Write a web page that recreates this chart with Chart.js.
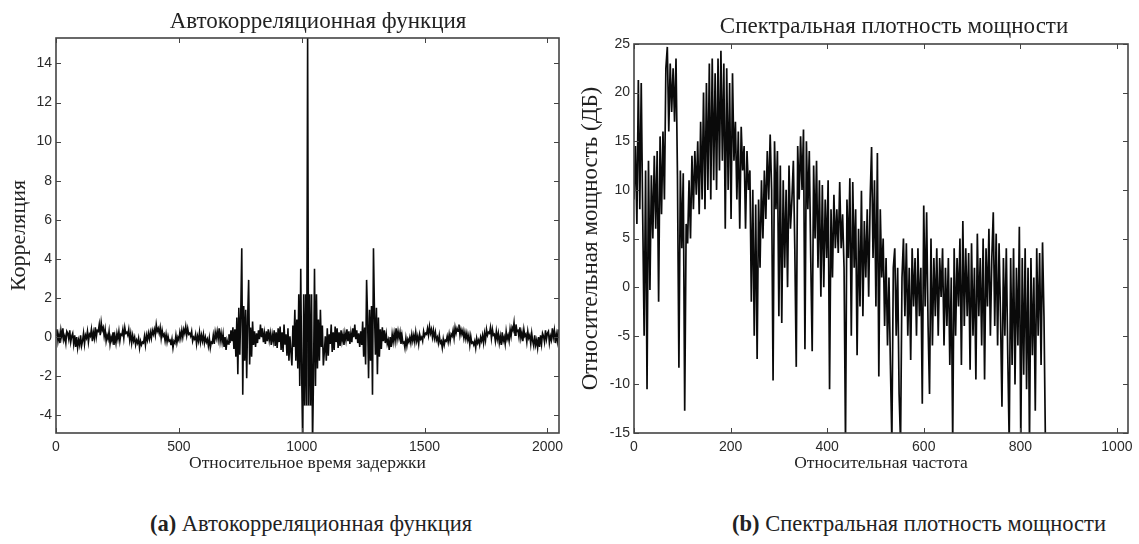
<!DOCTYPE html>
<html>
<head>
<meta charset="utf-8">
<script src="https://cdn.jsdelivr.net/npm/chart.js@4.4.1/dist/chart.umd.min.js"></script>
<style>
  body { margin: 0; background: #fff; }
  .page { position: relative; width: 1139px; height: 544px; overflow: hidden; font-family: 'Liberation Serif', 'DejaVu Serif', serif; color: #222; }
  .panel { position: absolute; top: 0; }
  .label { position: absolute; white-space: nowrap; line-height: 1; transform: translate(-50%, -50%); }
  .title { font-size: 23px; }
  .caption { font-size: 22.5px; }
</style>
</head>
<body>
<div class="page">
  <canvas id="acfChart" class="panel" style="left:0" width="575" height="480"></canvas>
  <canvas id="psdChart" class="panel" style="left:575px" width="564" height="480"></canvas>
  <div class="label title" style="left:318px; top:20px">Автокорреляционная функция</div>
  <div class="label title" style="left:894px; top:25px">Спектральная плотность мощности</div>
  <div class="label caption" style="left:311px; top:524px"><b>(a)</b> Автокорреляционная функция</div>
  <div class="label caption" style="left:919px; top:524px"><b>(b)</b> Спектральная плотность мощности</div>
</div>
<script>
// autocorrelation, one value every 4 lags (lag 0 .. 2044)
const acfStep = 4;
const acfCorr = [
  0.1, 0.4, -0.2, 0.15, -0.3, 0.35, 0.0, 0.45, -0.15, 0.05, -0.3, 0.3, 0.2, -0.1, 0.35, -0.25,
  0.05, 0.2, -0.35, 0.1, -0.5, 0.0, -0.55, -0.15, -0.4, 0.1, -0.45, -0.2, 0.2, -0.35, 0.1, -0.05,
  0.3, -0.25, 0.15, 0.05, 0.4, -0.2, 0.25, -0.05, 0.5, 0.0, 0.35, 0.3, 0.65, 0.1, 0.75, 0.35,
  0.5, 0.05, 0.4, -0.2, 0.1, -0.1, 0.3, -0.35, 0.0, -0.2, 0.25, -0.4, 0.05, -0.3, 0.2, -0.1,
  0.3, -0.2, 0.15, 0.1, 0.4, -0.05, 0.5, 0.2, 0.25, 0.1, 0.4, -0.15, 0.2, -0.3, 0.1, -0.2,
  0.0, -0.4, -0.15, -0.3, -0.05, -0.55, -0.2, -0.4, -0.25, -0.3, 0.05, -0.4, 0.1, -0.15, 0.2, -0.1,
  0.25, -0.05, 0.35, 0.15, 0.4, 0.1, 0.65, 0.3, 0.45, 0.2, 0.5, -0.05, 0.35, 0.05, 0.15, -0.2,
  0.15, -0.25, 0.05, -0.2, -0.15, -0.4, -0.1, -0.55, -0.2, -0.3, 0.1, -0.3, 0.0, -0.15, 0.25, -0.05,
  0.35, 0.0, 0.4, 0.2, 0.55, 0.1, 0.45, 0.15, 0.2, 0.05, 0.3, -0.2, 0.0, -0.1, 0.15, -0.35,
  0.05, -0.2, 0.25, -0.25, 0.1, -0.2, 0.15, -0.3, 0.0, -0.25, -0.1, -0.45, -0.05, -0.55, -0.25, -0.3,
  0.1, -0.35, 0.25, -0.05, 0.3, -0.1, 0.45, -0.2, 0.2, -0.25, 0.15, -0.5, 0.0, -0.65, -0.15, -0.35,
  0.15, -0.3, 0.35, -0.2, 0.5, -0.6, 0.4, -1.0, 1.0, -1.9, 1.5, -0.9, 1.3, 4.55, -2.94, 1.6,
  -1.2, 1.4, -2.1, 1.0, 2.93, -1.4, 0.5, -1.0, 0.8, -0.4, 0.3, -0.5, 0.2, -0.3, 0.35, -0.1,
  0.65, 0.0, 0.45, -0.25, 0.2, -0.35, 0.3, -0.2, 0.4, -0.15, 0.2, -0.4, 0.15, -0.2, 0.35, -0.45,
  0.25, -0.55, 0.45, -0.25, 0.55, -0.65, 0.25, -0.75, 0.65, -0.35, 0.15, -0.95, 0.45, -1.2, 0.05, -0.75,
  -1.45, 0.6, -0.5, 1.4, -1.2, 0.9, -1.6, 2.2, -2.5, 3.5, -2.0, -5.5, 2.2, -3.5, 2.2, -3.5,
  15.3,
  -3.5, 2.2, -3.5, 2.2, -5.5, -2.0, 3.5, -2.5, 2.2, -1.6, 0.9, -1.2, 1.4, -0.5, 0.6, -1.45,
  -0.75, 0.05, -1.2, 0.45, -0.95, 0.15, -0.35, 0.65, -0.75, 0.25, -0.65, 0.55, -0.25, 0.45, -0.55, 0.25,
  -0.45, 0.35, -0.2, 0.15, -0.4, 0.2, -0.15, 0.4, -0.2, 0.3, -0.35, 0.2, -0.25, 0.45, 0.0, 0.65,
  -0.1, 0.35, -0.3, 0.2, -0.5, 0.3, -0.4, 0.8, -1.0, 0.5, -1.4, 2.93, 1.0, -2.1, 1.4, -1.2,
  1.6, -2.94, 4.55, 1.3, -0.9, 1.5, -1.9, 1.0, -1.0, 0.4, -0.6, 0.5, -0.2, 0.35, -0.3, 0.15,
  -0.35, -0.15, -0.65, 0.0, -0.5, 0.15, -0.25, 0.2, -0.2, 0.45, -0.1, 0.3, -0.05, 0.25, -0.35, 0.1,
  -0.3, -0.25, -0.55, -0.05, -0.45, -0.1, -0.25, 0.0, -0.3, 0.15, -0.2, 0.1, -0.25, 0.25, -0.2, 0.05,
  -0.35, 0.15, -0.1, 0.0, -0.2, 0.3, 0.05, 0.2, 0.15, 0.45, 0.1, 0.55, 0.2, 0.4, 0.0, 0.35,
  -0.05, 0.25, -0.15, 0.0, -0.3, 0.1, -0.3, -0.2, -0.55, -0.1, -0.4, -0.15, -0.2, 0.05, -0.25, 0.15,
  -0.2, 0.15, 0.05, 0.35, -0.05, 0.5, 0.2, 0.45, 0.3, 0.65, 0.1, 0.4, 0.15, 0.35, -0.05, 0.25,
  -0.1, 0.2, -0.15, 0.1, -0.4, 0.05, -0.3, -0.25, -0.4, -0.2, -0.55, -0.05, -0.3, -0.15, -0.4, 0.0,
  -0.2, 0.1, -0.3, 0.2, -0.15, 0.4, 0.1, 0.25, 0.2, 0.5, -0.05, 0.4, 0.1, 0.15, -0.2, 0.3,
  -0.1, 0.2, -0.3, 0.05, -0.4, 0.25, -0.2, 0.0, -0.35, 0.3, -0.1, 0.1, -0.2, 0.4, 0.05, 0.5,
  0.35, 0.75, 0.1, 0.65, 0.3, 0.35, 0.0, 0.5, -0.05, 0.25, -0.2, 0.4, 0.05, 0.15, -0.25, 0.3,
  -0.05, 0.1, -0.35, 0.2, -0.2, -0.45, 0.1, -0.4, -0.15, -0.55, 0.0, -0.5, 0.1, -0.35, 0.2, 0.05,
  -0.25, 0.35, -0.1, 0.2, 0.3, -0.3, 0.05, -0.15, 0.45, 0.0, 0.35, -0.3, 0.15, -0.2, 0.4
];
const acfXTicks = [0, 500, 1000, 1500, 2000];
const acfYTicks = [-4, -2, 0, 2, 4, 6, 8, 10, 12, 14];

// power spectral density (dB), one value every 3 frequency bins (0 .. 852)
const psdStep = 3;
const psdPower = [
  9, 14.5, 6.5, 21.3, 8, 21, 7.5, -5, 12, -10.5,
  13, -0.3, 11.5, 5, 13.5, 6, 14, -1.5, 15.5, 7.5,
  16, 9, 22.5, 24.7, 16, 23, 18, 22.5, 17, 23.5,
  11.5, -8.3, 12, 4, 11.7, -12.7, 6.5, 4.5, 11, 5,
  13.5, 8, 14, 9.5, 15, 7.5, 17, 9, 20, 8,
  21, 10, 23, 9, 23.5, 11, 22, 10, 23.5, 12,
  24.3, 13, 23, 6, 22.5, 10, 21, 7, 22, 13,
  17, 9, 16, 6, 16.5, 12, 14.5, 6, 14, 10,
  12, -1.5, 10, -5, 8.5, -7.4, 9, 2, 11, 5,
  12, 7, 14, 9, 15.7, 10, -9.6, 15, 8, 14,
  -3, 12.5, -3.7, 11, 2, 10, 0, 12.5, 6, 9,
  13, 4, -8.2, 14.5, 9, 15.5, 10, 16.2, -6.4, 15,
  8, 14, 3, -6.6, 12.5, 5, 13, 2, 11, -1,
  10.5, 0, 9, 3, 11, -10.5, 8, 1, 9.5, 4,
  8, 3.5, 10.8, 4, 7.5, 2, -16, 9, 3, 11.2,
  -5, 10.8, 2, 8, -7, 6, -2, 9.9, -3, 6.8,
  1, 8, -1, 9, 14.4, 3, 11, -2, 13.8, -9.2,
  8, 1, 5, -4, 3, -6, 1, -8, -16, 2,
  4, -5, 2, -11, -16, 1, 5, -3, 4.5, -5,
  2, -7.5, 4, -2, 3, -5, 4, -3, 2, -12,
  8.4, -2, 7.7, -4, -11, 5, -6, 3, -3, 4,
  -5, 3, -1, 4, -6, 2, -4, 3, -8, 1,
  -16, 4, -5, 3, -2, 5, -8, 6.8, -4, 4,
  -3, 3.5, -8.5, 4.5, -5, 2, -9.5, 5.5, -3, 3,
  -6, 5, -9.5, 4, -2, 6, -5, 3, 7.7, -4,
  5.5, -6, 4.5, -3, -12.3, 3, -5, 4, -7, -16,
  3, -8, 4, -10, 2, -6, 6.2, -16, 3, -9,
  4, -10.5, 2, -16, 3, -7, 1, -12.7, 4, -5,
  3.5, -8, 4.6, -3, -16
];
const psdXTicks = [0, 200, 400, 600, 800, 1000];
const psdYTicks = [-15, -10, -5, 0, 5, 10, 15, 20, 25];

const SERIF = "'Liberation Serif', 'DejaVu Serif', serif";
const tickFont = { family: "'Liberation Sans', Arial, sans-serif", size: 14 };

// matlab style box with inward tick marks
const boxPlugin = {
  id: 'box',
  afterDatasetsDraw(chart) {
    const { ctx, chartArea: a, scales: { x, y } } = chart;
    const len = 5;
    ctx.save();
    ctx.strokeStyle = '#444';
    ctx.lineWidth = 1;
    ctx.beginPath();
    x.ticks.forEach((t, i) => {
      const px = Math.round(x.getPixelForTick(i)) + 0.5;
      ctx.moveTo(px, a.bottom); ctx.lineTo(px, a.bottom - len);
      ctx.moveTo(px, a.top); ctx.lineTo(px, a.top + len);
    });
    y.ticks.forEach((t, i) => {
      const py = Math.round(y.getPixelForTick(i)) + 0.5;
      ctx.moveTo(a.left, py); ctx.lineTo(a.left + len, py);
      ctx.moveTo(a.right, py); ctx.lineTo(a.right - len, py);
    });
    ctx.stroke();
    ctx.lineWidth = 1.6;
    ctx.strokeRect(a.left, a.top, a.right - a.left, a.bottom - a.top);
    ctx.restore();
  }
};

function makeChart(id, o) {
  return new Chart(document.getElementById(id), {
    type: 'line',
    data: {
      datasets: [{
        data: o.values.map((v, i) => ({ x: i * o.step, y: v })),
        borderColor: '#0a0a0a',
        borderWidth: o.lineWidth,
        pointRadius: 0,
        tension: 0,
      }],
    },
    options: {
      responsive: false,
      animation: false,
      devicePixelRatio: 1,
      parsing: false,
      layout: { padding: { top: o.top, right: o.right, left: 0, bottom: 0 } },
      plugins: { legend: { display: false }, tooltip: { enabled: false } },
      scales: {
        x: {
          type: 'linear',
          min: 0,
          max: o.xMax,
          grid: { display: false, drawTicks: false },
          border: { display: false },
          afterBuildTicks: s => { s.ticks = o.xTicks.map(v => ({ value: v })); },
          afterFit: s => { s.height = o.xAxisHeight; },
          ticks: { padding: 6, color: '#2a2a2a', font: tickFont, autoSkip: false, maxRotation: 0, callback: v => String(v) },
          title: { display: true, text: o.xTitle, color: '#222', font: { family: SERIF, size: 17.5 }, padding: { top: 0, bottom: 6 } },
        },
        y: {
          min: o.yMin,
          max: o.yMax,
          grid: { display: false, drawTicks: false },
          border: { display: false },
          afterBuildTicks: s => { s.ticks = o.yTicks.map(v => ({ value: v })); },
          afterFit: s => { s.width = o.yAxisWidth; },
          ticks: { padding: 4, color: '#2a2a2a', font: tickFont, autoSkip: false, callback: v => String(v) },
          title: { display: true, text: o.yTitle, color: '#222', font: { family: SERIF, size: o.yTitleSize }, padding: { top: o.yTitlePad, bottom: 0 } },
        },
      },
    },
    plugins: [boxPlugin],
  });
}

makeChart('acfChart', {
  values: acfCorr, step: acfStep, lineWidth: 1.6,
  xMax: 2047, yMin: -4.9, yMax: 15.3, xTicks: acfXTicks, yTicks: acfYTicks,
  top: 38, right: 16, xAxisHeight: 47, yAxisWidth: 56,
  xTitle: 'Относительное время задержки', yTitle: 'Корреляция', yTitleSize: 22, yTitlePad: 6,
});

makeChart('psdChart', {
  values: psdPower, step: psdStep, lineWidth: 1.7,
  xMax: 1023, yMin: -15, yMax: 25, xTicks: psdXTicks, yTicks: psdYTicks,
  top: 44, right: 11, xAxisHeight: 47, yAxisWidth: 59,
  xTitle: 'Относительная частота', yTitle: 'Относительная мощность (ДБ)', yTitleSize: 23, yTitlePad: 2,
});
</script>
</body>
</html>
